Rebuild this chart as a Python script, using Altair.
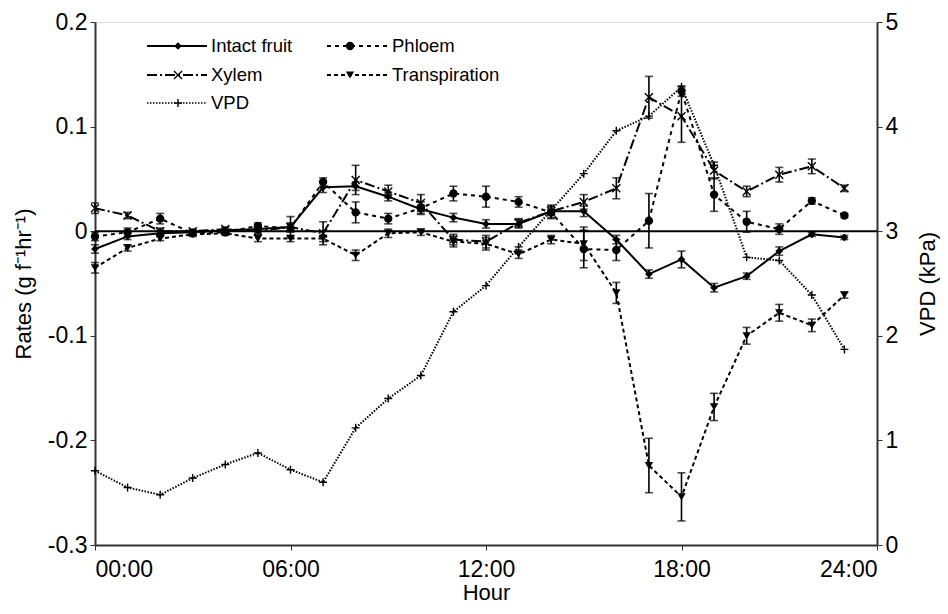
import altair as alt
import pandas as pd

hours = list(range(24))

intact = [-0.017, -0.005, -0.002, -0.001, 0.001, 0.002, 0.004, 0.042, 0.043, 0.033, 0.021, 0.013,
          0.007, 0.007, 0.019, 0.019, -0.008, -0.041, -0.027, -0.054, -0.043, -0.019, -0.003, -0.006]
intact_err = [0.004, 0.003, 0.003, 0.002, 0.002, 0.003, 0.004, 0.005, 0.004, 0.004, 0.004, 0.004,
              0.004, 0.004, 0.004, 0.005, 0.004, 0.004, 0.008, 0.004, 0.003, 0.004, 0.002, 0.002]

phloem = [-0.005, -0.001, 0.012, -0.002, -0.001, 0.005, 0.003, 0.047, 0.018, 0.012, 0.022, 0.036,
          0.033, 0.028, 0.018, -0.017, -0.018, 0.010, 0.134, 0.035, 0.009, 0.002, 0.029, 0.015]
phloem_err = [0.004, 0.004, 0.005, 0.002, 0.002, 0.003, 0.004, 0.004, 0.010, 0.005, 0.006, 0.007,
              0.010, 0.005, 0.006, 0.018, 0.010, 0.026, 0.005, 0.016, 0.010, 0.005, 0.003, 0.002]

xylem = [0.022, 0.015, 0.000, 0.000, 0.002, 0.000, 0.004, -0.002, 0.049, 0.038, 0.027, -0.008,
         -0.010, 0.008, 0.019, 0.028, 0.041, 0.128, 0.110, 0.058, 0.038, 0.054, 0.062, 0.041]
xylem_err = [0.005, 0.003, 0.003, 0.002, 0.002, 0.003, 0.010, 0.011, 0.014, 0.006, 0.008, 0.005,
             0.006, 0.004, 0.006, 0.007, 0.010, 0.020, 0.025, 0.008, 0.005, 0.007, 0.007, 0.003]

transp = [-0.035, -0.016, -0.007, -0.003, -0.002, -0.007, -0.007, -0.007, -0.023, -0.002, -0.001, -0.010,
          -0.012, -0.022, -0.008, -0.012, -0.059, -0.224, -0.254, -0.168, -0.100, -0.078, -0.090, -0.061]
transp_err = [0.005, 0.003, 0.002, 0.002, 0.002, 0.003, 0.003, 0.003, 0.005, 0.004, 0.003, 0.005,
              0.006, 0.004, 0.004, 0.016, 0.010, 0.026, 0.023, 0.013, 0.008, 0.008, 0.006, 0.003]

vpd = [0.71, 0.55, 0.48, 0.64, 0.77, 0.88, 0.72, 0.60, 1.12, 1.40, 1.62, 2.23,
       2.48, 2.85, 3.20, 3.55, 3.96, 4.10, 4.38, 3.63, 2.75, 2.72, 2.39, 1.87]

x_ticks = [0, 6, 12, 18, 24]
rate_ticks = [-0.3, -0.2, -0.1, 0, 0.1, 0.2]
vpd_ticks = [0, 1, 2, 3, 4, 5]

FONT = "Liberation Sans"
W, H = 782, 523

x_scale = alt.Scale(domain=[0, 24], nice=False, zero=False)
y_scale = alt.Scale(domain=[-0.3, 0.2], nice=False, zero=False)
v_scale = alt.Scale(domain=[0, 5], nice=False, zero=False)

x_axis = alt.Axis(values=x_ticks, title="Hour", grid=False,
                  labelExpr="(datum.value < 10 ? '0' : '') + datum.value + ':00'",
                  labelFontSize=23, titleFontSize=22, labelFont=FONT, titleFont=FONT,
                  titleFontWeight="normal", labelColor="black", titleColor="black",
                  tickSize=5, labelPadding=8, titlePadding=1, domainColor="#333", domainWidth=2,
                  tickColor="#333")
y_axis = alt.Axis(values=rate_ticks, title="Rates (g f\u207b\u00b9hr\u207b\u00b9)", grid=False,
                  labelExpr="'' + round(datum.value * 10) / 10",
                  labelFontSize=23, titleFontSize=22, labelFont=FONT, titleFont=FONT,
                  titleFontWeight="normal", labelColor="black", titleColor="black",
                  tickSize=5, labelPadding=3, titlePadding=12, domainColor="#333", domainWidth=2,
                  tickColor="#333")
v_axis = alt.Axis(values=vpd_ticks, title="VPD (kPa)", orient="right", grid=False,
                  labelFontSize=23, titleFontSize=22, labelFont=FONT, titleFont=FONT,
                  titleFontWeight="normal", labelColor="black", titleColor="black",
                  tickSize=5, labelPadding=3, titlePadding=20, titleAngle=270,
                  titleBaseline="top",
                  domainColor="#333", domainWidth=2, tickColor="#333")


def rate_series(vals, errs, dash, shape, filled, size, sw):
    df = pd.DataFrame({"hour": hours, "v": vals,
                       "lo": [v - e for v, e in zip(vals, errs)],
                       "hi": [v + e for v, e in zip(vals, errs)]})
    base = alt.Chart(df)
    X = alt.X("hour:Q", scale=x_scale, axis=x_axis)
    line_kw = dict(color="black", strokeWidth=sw)
    if dash:
        line_kw["strokeDash"] = dash
    line = base.mark_line(**line_kw).encode(x=X, y=alt.Y("v:Q", scale=y_scale, axis=y_axis))
    rule = base.mark_rule(color="black", strokeWidth=1.6).encode(
        x=X, y=alt.Y("lo:Q", scale=y_scale, axis=y_axis), y2="hi:Q")
    caps = base.transform_fold(["lo", "hi"], as_=["k", "e"]).mark_tick(
        color="black", orient="horizontal", size=8, thickness=1.6).encode(
        x=X, y=alt.Y("e:Q", scale=y_scale, axis=y_axis))
    if filled:
        pts = base.mark_point(shape=shape, filled=True, color="black", size=size, opacity=1)
    else:
        pts = base.mark_point(shape=shape, filled=False, color="black", size=size,
                              strokeWidth=1.4, opacity=1)
    pts = pts.encode(x=X, y=alt.Y("v:Q", scale=y_scale, axis=y_axis))
    return [line, rule, caps, pts]


XMARK = "M-1,-1L1,1M-1,1L1,-1"
PLUS = "M-1,0L1,0M0,-1L0,1"

styles = {
    "Intact fruit": dict(dash=None, shape="diamond", filled=True, size=60, sw=2),
    "Phloem": dict(dash=[4, 4], shape="circle", filled=True, size=70, sw=2),
    "Xylem": dict(dash=[10, 3, 2, 3], shape=XMARK, filled=False, size=64, sw=2),
    "Transpiration": dict(dash=[4, 3], shape="triangle-down", filled=True, size=70, sw=2),
    "VPD": dict(dash=[1.5, 1.5], shape=PLUS, filled=False, size=64, sw=2),
}

layers = []
zero_df = pd.DataFrame({"z": [0]})
layers.append(alt.Chart(zero_df).mark_rule(color="black", strokeWidth=2).encode(
    y=alt.Y("z:Q", scale=y_scale, axis=y_axis)))
layers += rate_series(transp, transp_err, **styles["Transpiration"])
layers += rate_series(xylem, xylem_err, **styles["Xylem"])
layers += rate_series(phloem, phloem_err, **styles["Phloem"])
layers += rate_series(intact, intact_err, **styles["Intact fruit"])

# manual legend (line + marker symbols)
dummy = pd.DataFrame({"k": [0]})
legend_items = [("Intact fruit", 0, 0), ("Phloem", 1, 0), ("Xylem", 0, 1),
                ("Transpiration", 1, 1), ("VPD", 0, 2)]
col_x = [(52, 112, 83, 116), (232, 292, 255, 297)]
row_y = [24, 53, 81]
for name, c, r in legend_items:
    st = styles[name]
    x0, x1, xm, xt = col_x[c]
    y = row_y[r]
    kw = dict(color="black", strokeWidth=1.8 if name != "VPD" else 1.5)
    if st["dash"]:
        kw["strokeDash"] = st["dash"]
    layers.append(alt.Chart(dummy).mark_rule(**kw).encode(
        x=alt.value(x0), x2=alt.value(x1), y=alt.value(y)))
    if st["filled"]:
        pm = alt.Chart(dummy).mark_point(shape=st["shape"], filled=True, color="black",
                                         size=st["size"], opacity=1)
    else:
        pm = alt.Chart(dummy).mark_point(shape=st["shape"], filled=False, color="black",
                                         size=st["size"], strokeWidth=1.4, opacity=1)
    layers.append(pm.encode(x=alt.value(xm), y=alt.value(y)))
    layers.append(alt.Chart(dummy).mark_text(text=name, align="left", baseline="middle",
                                             font=FONT, fontSize=18.5, color="black").encode(
        x=alt.value(xt), y=alt.value(y)))

rates = alt.layer(*layers)

vdf = pd.DataFrame({"hour": hours, "v": vpd})
vb = alt.Chart(vdf)
VX = alt.X("hour:Q", scale=x_scale, axis=x_axis)
VY = alt.Y("v:Q", scale=v_scale, axis=v_axis)
vline = vb.mark_line(color="black", strokeWidth=2, strokeDash=[1.5, 1.5]).encode(x=VX, y=VY)
vpts = vb.mark_point(shape=PLUS, filled=False, color="black", size=64, strokeWidth=1.4,
                     opacity=1).encode(x=VX, y=VY)
vlayer = alt.layer(vline, vpts)

chart = alt.layer(rates, vlayer).resolve_scale(y="independent").properties(
    width=W, height=H,
    autosize=alt.AutoSizeParams(type="none"),
    padding={"left": 87, "top": 14, "right": 63, "bottom": 61},
).configure_view(stroke="#555", strokeWidth=2).configure(background="white")

chart.save("out.html", embed_options={"renderer": "svg", "actions": False})
